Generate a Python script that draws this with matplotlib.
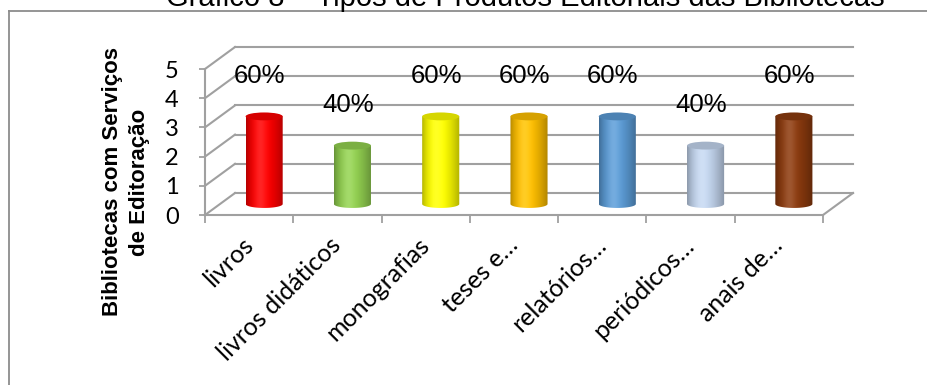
import numpy as np
import matplotlib
matplotlib.use("Agg")
import matplotlib.pyplot as plt
from matplotlib.patches import Ellipse, PathPatch
from matplotlib.path import Path
from matplotlib.colors import to_rgb

## chart data
categories = ['livros', 'livros didáticos', 'monografias', 'teses e\u2026',
              'relatórios\u2026', 'periódicos\u2026', 'anais de\u2026']
values = [3, 2, 3, 3, 3, 2, 3]
total_libraries = 5
bar_colors = ['#FF0000', '#92D050', '#FFFF00', '#FFC000',
              '#5B9BD5', '#C3D5EE', '#8B3A0E']
yticks = [0, 1, 2, 3, 4, 5]

W, H = 928, 385
DX, DY = 0.34, 0.753        # depth offset of the back wall (data units)
GRID = '#A0A0A0'


def draw_cylinder(ax, xc, v, color, w=0.42, eh=0.27):
    ## body with a horizontal shading, bottom rounded by half an ellipse
    y0 = DY / 2
    th = np.linspace(np.pi, 2 * np.pi, 60)
    pts = [(xc - w / 2, y0 + v), (xc - w / 2, y0)]
    pts += list(zip(xc + w / 2 * np.cos(th), y0 + eh / 2 * np.sin(th)))
    pts += [(xc + w / 2, y0), (xc + w / 2, y0 + v), (xc - w / 2, y0 + v)]
    clip = PathPatch(Path(pts, closed=True), facecolor='none', edgecolor='none',
                     transform=ax.transData)
    ax.add_patch(clip)

    t = np.linspace(0, 1, 80)
    shade = 0.70 + 0.32 * np.sin(np.pi * t ** 0.8)
    glow = 0.14 * np.exp(-((t - 0.38) / 0.16) ** 2)
    base = np.array(to_rgb(color))
    row = np.clip(base[None, :] * shade[:, None] + glow[:, None] * (1 - base[None, :]), 0, 1)
    img = np.repeat(row[None, :, :], 2, axis=0)
    im = ax.imshow(img, extent=[xc - w / 2, xc + w / 2, y0 - eh / 2, y0 + v],
                   aspect='auto', interpolation='bilinear', zorder=3)
    im.set_clip_path(clip)

    ## top cap
    top = tuple(np.clip(base * 0.84, 0, 1))
    ax.add_patch(Ellipse((xc, y0 + v), w, eh, facecolor=top, edgecolor='none',
                         zorder=4, clip_on=False))


fig = plt.figure(figsize=(W / 100, H / 100), dpi=100)

## outer frame (open to the right and bottom)
fig.add_artist(plt.Line2D([9 / W, 1], [1 - 11 / H, 1 - 11 / H], color='#8C8C8C', lw=1.3))
fig.add_artist(plt.Line2D([9 / W, 9 / W], [1 - 11 / H, 0], color='#8C8C8C', lw=1.3))

fig.text(525 / W, 1 - 6 / H, 'Gráfico 8 \u2013 Tipos de Produtos Editoriais das Bibliotecas',
         ha='center', va='baseline', fontsize=21, family='Liberation Sans')

ax = fig.add_axes([205 / W, (H - 215) / H, 618 / W, 146 / H])
ax.patch.set_visible(False)

for s in ['top', 'right']:
    ax.spines[s].set_visible(False)
for s in ['left', 'bottom']:
    ax.spines[s].set_color(GRID)
    ax.spines[s].set_linewidth(1.5)

## back wall gridlines and the side diagonals
n = len(categories)
for v in yticks:
    ax.plot([DX, n + DX], [v + DY, v + DY], color=GRID, lw=1.5, zorder=1, clip_on=False)
    ax.plot([0, DX], [v, v + DY], color=GRID, lw=1.5, zorder=1, clip_on=False)
ax.plot([n, n + DX], [0, DY], color=GRID, lw=1.5, zorder=1, clip_on=False)

ax.tick_params(axis='y', length=4, width=1.3, color=GRID, pad=15,
               labelsize=17, labelfontfamily='Lato')
ax.tick_params(axis='x', which='major', length=6, width=1.3, color=GRID)
ax.tick_params(axis='x', which='minor', length=0, pad=19,
               labelsize=18, labelfontfamily='Lato')

ax.set_yticks(yticks)
ax.set_yticklabels([str(v) for v in yticks])
ax.set_xticks(np.arange(n + 1))
ax.set_xticklabels([])
ax.set_xticks(np.arange(n) + 0.5, minor=True)
ax.set_xticklabels(categories, minor=True, rotation=45, ha='right', va='center',
                   rotation_mode='anchor')

for i, (v, c) in enumerate(zip(values, bar_colors)):
    xc = i + 0.5 + DX / 2
    draw_cylinder(ax, xc, v, c)
    ax.text(xc - 0.05, v + 1.75, f'{v / total_libraries:.0%}', ha='center', va='center',
            fontsize=18.5, family='Liberation Sans', zorder=5, clip_on=False)

ax.set_xlim(0, n)
ax.set_ylim(0, 5)

fig.text(126 / W, 1 - 182 / H, 'Bibliotecas com Serviços\nde Editoração', rotation=90,
         ha='center', va='center', multialignment='center', fontsize=16,
         fontweight='bold', family='Liberation Sans', linespacing=1.4)

plt.savefig('out.png', dpi=100)
